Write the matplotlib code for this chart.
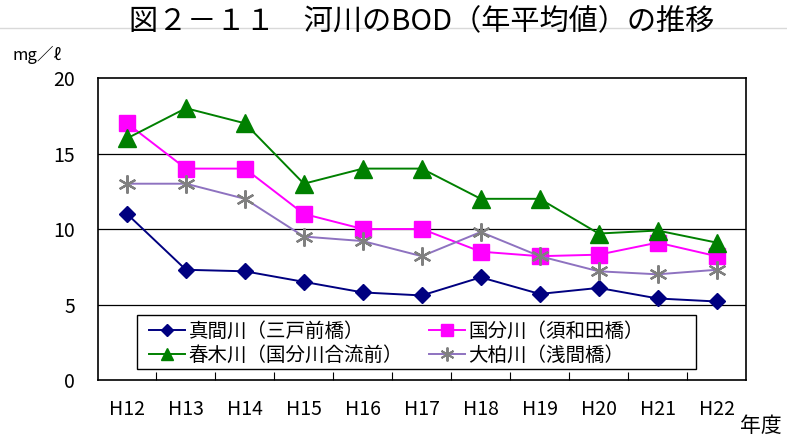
import matplotlib

matplotlib.use("Agg")
import matplotlib.pyplot as plt
from matplotlib.lines import Line2D
from matplotlib.patches import Rectangle
from matplotlib.ticker import FixedLocator

plt.rcParams["font.family"] = ["Noto Sans CJK JP", "DejaVu Sans"]

# Data (mg/l, yearly average BOD)
years = ["H12", "H13", "H14", "H15", "H16", "H17", "H18", "H19", "H20", "H21", "H22"]
mama = [11.0, 7.3, 7.2, 6.5, 5.8, 5.6, 6.8, 5.7, 6.1, 5.4, 5.2]
kokubun = [17.0, 14.0, 14.0, 11.0, 10.0, 10.0, 8.5, 8.2, 8.3, 9.1, 8.2]
haruki = [16.0, 18.0, 17.0, 13.0, 14.0, 14.0, 12.0, 12.0, 9.7, 9.9, 9.1]
ookashiwa = [13.0, 13.0, 12.0, 9.5, 9.2, 8.2, 9.8, 8.2, 7.2, 7.0, 7.3]

labels = [
    "真間川（三戸前橋）",
    "国分川（須和田橋）",
    "春木川（国分川合流前）",
    "大柏川（浅間橋）",
]
y_ticks = [0, 5, 10, 15, 20]

fig = plt.figure(figsize=(7.87, 4.36), dpi=100)
ax = fig.add_axes([0.1239, 0.1284, 0.8241, 0.6927])

x = list(range(len(years)))

# Series lines.
ax.plot(x, mama, color="#000080", lw=1.4, marker="D", ms=8,
        mfc="#000080", mec="#000080", zorder=5)
ax.plot(x, kokubun, color="#FF00FF", lw=1.4, marker="s", ms=12,
        mfc="#FF00FF", mec="#FF00FF", zorder=4)
ax.plot(x, haruki, color="#008000", lw=1.4, marker="^", ms=13,
        mfc="#008000", mec="#008000", zorder=6)
ax.plot(x, ookashiwa, color="#8E72C0", lw=1.4, marker=(6, 2, 0), ms=13,
        mec="#808080", mew=1.6, zorder=7)

ax.set_xlim(-0.5, len(years) - 0.5)
ax.set_ylim(0, 20)

# Axes styling.
ax.set_yticks(y_ticks)
ax.tick_params(axis="y", length=0, pad=16, labelsize=14)
ax.set_xticks(x)
ax.set_xticklabels(years)
ax.tick_params(axis="x", which="major", length=0, pad=14, labelsize=14)
ax.xaxis.set_minor_locator(FixedLocator([i + 0.5 for i in range(len(years) - 1)]))
ax.tick_params(axis="x", which="minor", direction="in", length=6, width=0.8, color="black")
for v in [5, 10, 15]:
    ax.axhline(v, color="black", lw=0.9, zorder=1)
for s in ax.spines.values():
    s.set_linewidth(1.2)

# Legend box and entries (column-major: left column first).
ax.add_patch(Rectangle((0.0609, 0.0364), 0.862, 0.1786, transform=ax.transAxes,
                       facecolor="white", edgecolor="black", lw=1.0, zorder=8))
order_labels = [labels[0], labels[2], labels[1], labels[3]]
legend_handles = [
    Line2D([], [], color="#000080", lw=1.4, marker="D", ms=6, mfc="#000080", mec="#000080"),
    Line2D([], [], color="#008000", lw=1.4, marker="^", ms=9, mfc="#008000", mec="#008000"),
    Line2D([], [], color="#FF00FF", lw=1.4, marker="s", ms=9, mfc="#FF00FF", mec="#FF00FF"),
    Line2D([], [], color="#8E72C0", lw=1.4, marker=(6, 2, 0), ms=10, mec="#808080", mew=1.4),
]
leg = ax.legend(legend_handles, order_labels, ncol=2, loc="center left",
                bbox_to_anchor=(0.0794, 0.1225), frameon=False, fontsize=14,
                handlelength=1.85, handletextpad=0.2, columnspacing=1.3,
                labelspacing=0.15, borderpad=0, borderaxespad=0)
leg.set_zorder(9)

# Title with the thin rule behind it.
fig.add_artist(Line2D([0, 1], [0.9358, 0.9358], transform=fig.transFigure,
                      color="#d9d9d9", lw=1.0, zorder=0))
fig.text(0.536, 0.949, "図２－１１　河川のBOD（年平均値）の推移", ha="center", va="center",
         fontsize=21, zorder=2)

fig.text(0.0165, 0.873, "mg／ℓ", ha="left", va="center", fontsize=12)
fig.text(0.940, 0.022, "年度", ha="left", va="center", fontsize=15)

fig.savefig("out.png", dpi=100)
